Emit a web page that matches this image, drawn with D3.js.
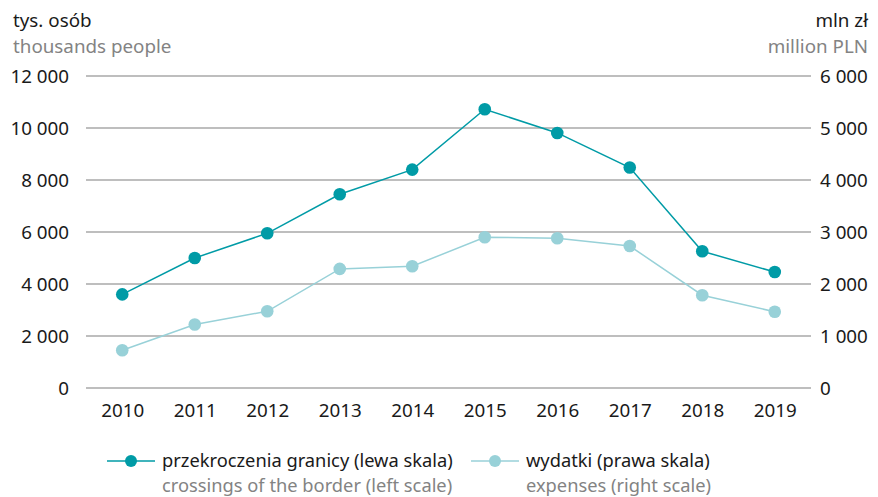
<!DOCTYPE html>
<html>
<head>
<meta charset="utf-8">
<script src="https://cdn.jsdelivr.net/npm/d3@7"></script>
<style>
  body { margin: 0; background: #fff; }
  svg text { font-family: "Noto Sans", sans-serif; }
</style>
</head>
<body>
<div id="chart"></div>
<script>
// data
const years = ["2010", "2011", "2012", "2013", "2014", "2015", "2016", "2017", "2018", "2019"];
const crossings = [3600, 5000, 5950, 7450, 8400, 10720, 9810, 8480, 5260, 4460];
const expenses = [725, 1220, 1475, 2290, 2340, 2900, 2880, 2730, 1785, 1465];
const leftTicks = [0, 2000, 4000, 6000, 8000, 10000, 12000];
const rightTicks = [0, 1000, 2000, 3000, 4000, 5000, 6000];

const W = 878, H = 497;
const margin = { top: 76, right: 67, bottom: 109, left: 86 };
const width = W - margin.left - margin.right;
const height = H - margin.top - margin.bottom;

const dark = "#009ba6", light = "#98d1d8", grid = "#a8a8a8";
const fs = 18.8;
const fmt = v => d3.format(",")(v).replace(/,/g, " ");

const svg = d3.select("#chart").append("svg")
    .attr("width", W).attr("height", H);
const g = svg.append("g")
    .attr("transform", "translate(" + margin.left + "," + margin.top + ")");

const x = d3.scalePoint().domain(years).range([0, width]).padding(0.5);
const yL = d3.scaleLinear().domain([0, 12000]).range([height, 0]);
const yR = d3.scaleLinear().domain([0, 6000]).range([height, 0]);

// gridlines
g.selectAll(".grid").data(leftTicks).join("line")
    .attr("x1", 0).attr("x2", width)
    .attr("y1", d => yL(d)).attr("y2", d => yL(d))
    .attr("stroke", grid).attr("stroke-width", 1.5);

// axes
const leftAxis = g.append("g").call(d3.axisLeft(yL).tickValues(leftTicks).tickFormat(fmt).tickSize(0).tickPadding(17));
const rightAxis = g.append("g").attr("transform", "translate(" + width + ",0)")
    .call(d3.axisRight(yR).tickValues(rightTicks).tickFormat(fmt).tickSize(0).tickPadding(9));
const bottomAxis = g.append("g").attr("transform", "translate(0," + height + ")")
    .call(d3.axisBottom(x).tickSize(0).tickPadding(16));
[leftAxis, rightAxis, bottomAxis].forEach(a => {
    a.select(".domain").remove();
    a.selectAll("text").attr("font-size", fs).attr("fill", "#1a1a1a")
        .style("font-family", "'Noto Sans', sans-serif");
});

// lines
const lineL = d3.line().x((d, i) => x(years[i])).y(d => yL(d));
const lineR = d3.line().x((d, i) => x(years[i])).y(d => yR(d));

g.append("path").datum(expenses).attr("d", lineR)
    .attr("fill", "none").attr("stroke", light).attr("stroke-width", 1.5);
g.selectAll(".pe").data(expenses).join("circle")
    .attr("cx", (d, i) => x(years[i])).attr("cy", d => yR(d)).attr("r", 6.3).attr("fill", light);

g.append("path").datum(crossings).attr("d", lineL)
    .attr("fill", "none").attr("stroke", dark).attr("stroke-width", 1.5);
g.selectAll(".pc").data(crossings).join("circle")
    .attr("cx", (d, i) => x(years[i])).attr("cy", d => yL(d)).attr("r", 6.3).attr("fill", dark);

// axis titles
svg.append("text").attr("x", 13).attr("y", 27).attr("font-size", fs).attr("fill", "#1a1a1a").text("tys. osób");
svg.append("text").attr("x", 13).attr("y", 53).attr("font-size", fs).attr("fill", "#838383").text("thousands people");
svg.append("text").attr("x", 868).attr("y", 27).attr("font-size", fs).attr("fill", "#1a1a1a").attr("text-anchor", "end").text("mln zł");
svg.append("text").attr("x", 868).attr("y", 53).attr("font-size", fs).attr("fill", "#838383").attr("text-anchor", "end").text("million PLN");

// legend
const legend = [
    { color: dark, x: 107, pl: "przekroczenia granicy (lewa skala)", en: "crossings of the border (left scale)" },
    { color: light, x: 471, pl: "wydatki (prawa skala)", en: "expenses (right scale)" }
];
const lg = svg.selectAll(".legend").data(legend).join("g")
    .attr("transform", d => "translate(" + d.x + ",461)");
lg.append("line").attr("x1", 0).attr("x2", 48).attr("stroke", d => d.color).attr("stroke-width", 1.5);
lg.append("circle").attr("cx", 24).attr("r", 6).attr("fill", d => d.color);
lg.append("text").attr("x", 55).attr("y", 6).attr("font-size", 18.3).attr("fill", "#1a1a1a").text(d => d.pl);
lg.append("text").attr("x", 55).attr("y", 31).attr("font-size", 18.3).attr("fill", "#838383").text(d => d.en);
</script>
</body>
</html>
